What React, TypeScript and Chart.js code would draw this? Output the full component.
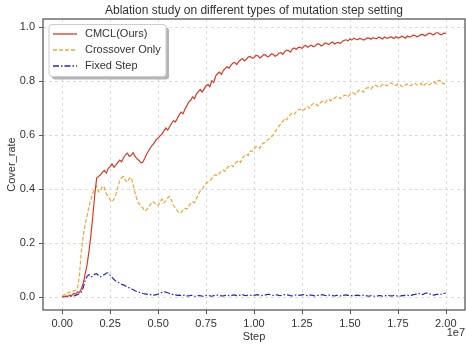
import React, { useEffect, useRef } from "react";
import { Chart, registerables } from "chart.js";
Chart.register(...registerables);

const TITLE = "Ablation study on different types of mutation step setting";
const X_LABEL = "Step";
const Y_LABEL = "Cover_rate";
const X_OFFSET_TEXT = "1e7";
const SERIES_LABELS = ["CMCL(Ours)", "Crossover Only", "Fixed Step"];

// steps in millions
const STEPS_M = [
  0.0, 0.1, 0.2, 0.3, 0.4, 0.5, 0.6, 0.7, 0.8, 0.9,
  1.0, 1.1, 1.2, 1.3, 1.4, 1.5, 1.6, 1.7, 1.8, 1.9,
  2.0, 2.1, 2.2, 2.3, 2.4, 2.5, 2.6, 2.7, 2.8, 2.9,
  3.0, 3.1, 3.2, 3.3, 3.4, 3.5, 3.6, 3.7, 3.8, 3.9,
  4.0, 4.1, 4.2, 4.3, 4.4, 4.5, 4.6, 4.7, 4.8, 4.9,
  5.0, 5.1, 5.2, 5.3, 5.4, 5.5, 5.6, 5.7, 5.8, 5.9,
  6.0, 6.1, 6.2, 6.3, 6.4, 6.5, 6.6, 6.7, 6.8, 6.9,
  7.0, 7.1, 7.2, 7.3, 7.4, 7.5, 7.6, 7.7, 7.8, 7.9,
  8.0, 8.1, 8.2, 8.3, 8.4, 8.5, 8.6, 8.7, 8.8, 8.9,
  9.0, 9.1, 9.2, 9.3, 9.4, 9.5, 9.6, 9.7, 9.8, 9.9,
  10.0, 10.1, 10.2, 10.3, 10.4, 10.5, 10.6, 10.7, 10.8, 10.9,
  11.0, 11.1, 11.2, 11.3, 11.4, 11.5, 11.6, 11.7, 11.8, 11.9,
  12.0, 12.1, 12.2, 12.3, 12.4, 12.5, 12.6, 12.7, 12.8, 12.9,
  13.0, 13.1, 13.2, 13.3, 13.4, 13.5, 13.6, 13.7, 13.8, 13.9,
  14.0, 14.1, 14.2, 14.3, 14.4, 14.5, 14.6, 14.7, 14.8, 14.9,
  15.0, 15.1, 15.2, 15.3, 15.4, 15.5, 15.6, 15.7, 15.8, 15.9,
  16.0, 16.1, 16.2, 16.3, 16.4, 16.5, 16.6, 16.7, 16.8, 16.9,
  17.0, 17.1, 17.2, 17.3, 17.4, 17.5, 17.6, 17.7, 17.8, 17.9,
  18.0, 18.1, 18.2, 18.3, 18.4, 18.5, 18.6, 18.7, 18.8, 18.9,
  19.0, 19.1, 19.2, 19.3, 19.4, 19.5, 19.6, 19.7, 19.8, 19.9,
  20.0,
];

const CMCL = [
  0.000, 0.001, 0.003, 0.002, 0.006, 0.005, 0.012, 0.010, 0.018, 0.016,
  0.030, 0.050, 0.085, 0.120, 0.170, 0.230, 0.300, 0.380, 0.440, 0.446,
  0.452, 0.462, 0.468, 0.458, 0.475, 0.482, 0.492, 0.480, 0.488, 0.498,
  0.506, 0.500, 0.515, 0.526, 0.532, 0.520, 0.524, 0.534, 0.520, 0.512,
  0.505, 0.496, 0.498, 0.512, 0.528, 0.540, 0.552, 0.562, 0.570, 0.582,
  0.588, 0.596, 0.602, 0.614, 0.625, 0.618, 0.630, 0.642, 0.652, 0.648,
  0.660, 0.674, 0.684, 0.678, 0.695, 0.708, 0.722, 0.728, 0.740, 0.734,
  0.752, 0.760, 0.768, 0.758, 0.770, 0.782, 0.786, 0.778, 0.800, 0.794,
  0.818, 0.826, 0.832, 0.824, 0.838, 0.846, 0.852, 0.846, 0.858, 0.866,
  0.868, 0.860, 0.870, 0.878, 0.882, 0.874, 0.880, 0.888, 0.890, 0.884,
  0.886, 0.894, 0.893, 0.885, 0.889, 0.897, 0.896, 0.889, 0.892, 0.900,
  0.898, 0.891, 0.895, 0.902, 0.904, 0.898, 0.908, 0.914, 0.912, 0.906,
  0.918, 0.922, 0.916, 0.923, 0.925, 0.920, 0.928, 0.931, 0.924, 0.929,
  0.932, 0.926, 0.930, 0.937, 0.936, 0.929, 0.933, 0.940, 0.938, 0.934,
  0.940, 0.944, 0.936, 0.941, 0.942, 0.938, 0.946, 0.950, 0.952, 0.948,
  0.955, 0.951, 0.958, 0.954, 0.953, 0.957, 0.956, 0.951, 0.954, 0.959,
  0.958, 0.954, 0.960, 0.957, 0.956, 0.962, 0.959, 0.955, 0.962, 0.958,
  0.958, 0.963, 0.961, 0.957, 0.963, 0.959, 0.960, 0.965, 0.962, 0.958,
  0.966, 0.962, 0.964, 0.969, 0.968, 0.963, 0.966, 0.971, 0.972, 0.967,
  0.970, 0.976, 0.976, 0.970, 0.972, 0.978, 0.978, 0.972, 0.971, 0.977,
  0.976,
];

const CROSSOVER = [
  0.000, 0.008, 0.012, 0.015, 0.018, 0.020, 0.022, 0.024, 0.030, 0.080,
  0.170, 0.225, 0.270, 0.300, 0.335, 0.362, 0.385, 0.398, 0.410, 0.388,
  0.392, 0.410, 0.405, 0.382, 0.372, 0.360, 0.352, 0.362, 0.378, 0.405,
  0.430, 0.442, 0.445, 0.430, 0.425, 0.438, 0.442, 0.415, 0.385, 0.360,
  0.345, 0.336, 0.330, 0.318, 0.322, 0.334, 0.342, 0.352, 0.350, 0.340,
  0.338, 0.350, 0.362, 0.348, 0.355, 0.366, 0.372, 0.358, 0.340, 0.330,
  0.318, 0.310, 0.312, 0.322, 0.328, 0.325, 0.335, 0.346, 0.352, 0.348,
  0.365, 0.380, 0.392, 0.398, 0.410, 0.420, 0.425, 0.430, 0.438, 0.448,
  0.452, 0.448, 0.458, 0.466, 0.470, 0.465, 0.478, 0.484, 0.488, 0.482,
  0.492, 0.500, 0.505, 0.498, 0.515, 0.522, 0.528, 0.524, 0.540, 0.538,
  0.548, 0.556, 0.556, 0.550, 0.565, 0.570, 0.572, 0.580, 0.586, 0.592,
  0.600, 0.612, 0.622, 0.632, 0.640, 0.650, 0.660, 0.655, 0.668, 0.675,
  0.680, 0.676, 0.686, 0.692, 0.695, 0.688, 0.692, 0.700, 0.705, 0.698,
  0.710, 0.716, 0.716, 0.708, 0.712, 0.722, 0.724, 0.718, 0.728, 0.732,
  0.726, 0.734, 0.735, 0.742, 0.740, 0.734, 0.738, 0.746, 0.746, 0.740,
  0.750, 0.756, 0.755, 0.750, 0.760, 0.766, 0.764, 0.758, 0.770, 0.774,
  0.775, 0.770, 0.778, 0.784, 0.782, 0.776, 0.780, 0.786, 0.788, 0.781,
  0.786, 0.792, 0.790, 0.784, 0.782, 0.789, 0.786, 0.780, 0.778, 0.786,
  0.788, 0.782, 0.782, 0.790, 0.790, 0.784, 0.785, 0.791, 0.780, 0.786,
  0.790, 0.784, 0.788, 0.795, 0.795, 0.789, 0.800, 0.802, 0.792, 0.788,
  0.796,
];

const FIXED = [
  0.000, 0.000, 0.000, 0.001, 0.001, 0.002, 0.003, 0.005, 0.008, 0.012,
  0.018, 0.035, 0.062, 0.076, 0.082, 0.074, 0.076, 0.084, 0.086, 0.078,
  0.074, 0.080, 0.082, 0.088, 0.088, 0.080, 0.072, 0.064, 0.058, 0.054,
  0.050, 0.046, 0.044, 0.040, 0.036, 0.033, 0.030, 0.026, 0.022, 0.019,
  0.017, 0.014, 0.012, 0.011, 0.010, 0.008, 0.008, 0.006, 0.006, 0.008,
  0.010, 0.013, 0.016, 0.018, 0.017, 0.015, 0.012, 0.010, 0.008, 0.007,
  0.005, 0.006, 0.004, 0.005, 0.006, 0.003, 0.003, 0.005, 0.005, 0.002,
  0.002, 0.004, 0.004, 0.002, 0.003, 0.005, 0.006, 0.003, 0.002, 0.004,
  0.004, 0.006, 0.005, 0.003, 0.003, 0.005, 0.006, 0.004, 0.004, 0.006,
  0.007, 0.004, 0.005, 0.007, 0.008, 0.005, 0.004, 0.007, 0.006, 0.004,
  0.005, 0.007, 0.008, 0.005, 0.004, 0.006, 0.007, 0.009, 0.009, 0.006,
  0.005, 0.007, 0.007, 0.005, 0.004, 0.006, 0.008, 0.007, 0.006, 0.004,
  0.003, 0.005, 0.007, 0.006, 0.005, 0.007, 0.008, 0.005, 0.004, 0.006,
  0.006, 0.004, 0.003, 0.005, 0.005, 0.007, 0.007, 0.005, 0.004, 0.006,
  0.006, 0.004, 0.003, 0.005, 0.005, 0.003, 0.004, 0.006, 0.007, 0.005,
  0.005, 0.004, 0.003, 0.005, 0.006, 0.004, 0.004, 0.006, 0.005, 0.003,
  0.002, 0.004, 0.003, 0.002, 0.002, 0.004, 0.004, 0.002, 0.003, 0.005,
  0.005, 0.003, 0.003, 0.005, 0.004, 0.002, 0.002, 0.004, 0.004, 0.006,
  0.006, 0.004, 0.005, 0.008, 0.009, 0.011, 0.012, 0.009, 0.008, 0.012,
  0.014, 0.011, 0.010, 0.007, 0.006, 0.009, 0.009, 0.011, 0.008, 0.012,
  0.014,
];

const X_TICKS = [0, 2.5e6, 5e6, 7.5e6, 10e6, 12.5e6, 15e6, 17.5e6, 20e6];
const Y_TICKS = [0, 0.2, 0.4, 0.6, 0.8, 1.0];

const COLORS = ["#d63c25", "#eaa73a", "#2626cc"];
const DASHES: number[][] = [[], [4, 2], [6, 2, 1.5, 2]];
const FONT = "'Liberation Sans', Arial, sans-serif";
const TEXT = "#333333";

export default function App() {
  const ref = useRef<HTMLCanvasElement | null>(null);

  useEffect(() => {
    document.body.style.margin = "0";
    const canvas = ref.current;
    if (!canvas) return;

    const series = [CMCL, CROSSOVER, FIXED];

    const decor = {
      id: "decor",
      beforeDraw(chart: any) {
        const ctx = chart.ctx;
        ctx.save();
        ctx.fillStyle = "#ffffff";
        ctx.fillRect(0, 0, chart.width, chart.height);
        ctx.restore();
      },
      beforeDatasetsDraw(chart: any) {
        const ctx = chart.ctx;
        const { left, right, top, bottom } = chart.chartArea;
        const xs = chart.scales.x;
        const ys = chart.scales.y;
        ctx.save();
        ctx.strokeStyle = "#d4d4d4";
        ctx.lineWidth = 0.8;
        ctx.setLineDash([3, 3]);
        X_TICKS.forEach((v) => {
          const px = Math.round(xs.getPixelForValue(v)) + 0.5;
          ctx.beginPath();
          ctx.moveTo(px, top);
          ctx.lineTo(px, bottom);
          ctx.stroke();
        });
        Y_TICKS.forEach((v) => {
          const py = Math.round(ys.getPixelForValue(v)) + 0.5;
          ctx.beginPath();
          ctx.moveTo(left, py);
          ctx.lineTo(right, py);
          ctx.stroke();
        });
        ctx.restore();
      },
      afterDraw(chart: any) {
        const ctx = chart.ctx;
        const { left, right, top, bottom } = chart.chartArea;
        const xs = chart.scales.x;
        const ys = chart.scales.y;
        ctx.save();
        ctx.strokeStyle = "#5a5a5a";
        ctx.lineWidth = 1.3;
        ctx.strokeRect(left, top, right - left, bottom - top);
        ctx.lineWidth = 1;
        X_TICKS.forEach((v) => {
          const px = Math.round(xs.getPixelForValue(v)) + 0.5;
          ctx.beginPath();
          ctx.moveTo(px, bottom);
          ctx.lineTo(px, bottom + 4);
          ctx.stroke();
        });
        Y_TICKS.forEach((v) => {
          const py = Math.round(ys.getPixelForValue(v)) + 0.5;
          ctx.beginPath();
          ctx.moveTo(left - 4, py);
          ctx.lineTo(left, py);
          ctx.stroke();
        });
        const cx = (left + right) / 2;
        ctx.fillStyle = TEXT;
        ctx.textAlign = "center";
        ctx.textBaseline = "middle";
        ctx.font = `12px ${FONT}`;
        ctx.fillText(TITLE, cx, 11);
        ctx.font = `11px ${FONT}`;
        ctx.fillText(X_LABEL, cx, 337);
        ctx.textAlign = "right";
        ctx.fillText(X_OFFSET_TEXT, right, 333);
        ctx.save();
        ctx.translate(12, (top + bottom) / 2);
        ctx.rotate(-Math.PI / 2);
        ctx.textAlign = "center";
        ctx.fillText(Y_LABEL, 0, 0);
        ctx.restore();
        const lx = 49, ly = 24.5, lw = 117, lh = 52;
        const rr = (x: number, y: number, w: number, h: number, r: number) => {
          ctx.beginPath();
          ctx.moveTo(x + r, y);
          ctx.lineTo(x + w - r, y);
          ctx.arcTo(x + w, y, x + w, y + r, r);
          ctx.lineTo(x + w, y + h - r);
          ctx.arcTo(x + w, y + h, x + w - r, y + h, r);
          ctx.lineTo(x + r, y + h);
          ctx.arcTo(x, y + h, x, y + h - r, r);
          ctx.lineTo(x, y + r);
          ctx.arcTo(x, y, x + r, y, r);
          ctx.closePath();
        };
        rr(lx + 3, ly + 3, lw, lh, 3);
        ctx.fillStyle = "rgba(120,120,120,0.55)";
        ctx.fill();
        rr(lx, ly, lw, lh, 3);
        ctx.fillStyle = "#ffffff";
        ctx.fill();
        ctx.strokeStyle = "#cccccc";
        ctx.lineWidth = 1;
        ctx.stroke();
        ctx.font = `11px ${FONT}`;
        ctx.textAlign = "left";
        ctx.textBaseline = "middle";
        SERIES_LABELS.forEach((lab, i) => {
          const yy = 34 + i * 16;
          ctx.strokeStyle = COLORS[i];
          ctx.lineWidth = 1.3;
          ctx.setLineDash(DASHES[i]);
          ctx.beginPath();
          ctx.moveTo(53, yy);
          ctx.lineTo(77, yy);
          ctx.stroke();
          ctx.setLineDash([]);
          ctx.fillStyle = TEXT;
          ctx.fillText(lab, 85, yy);
        });
        ctx.restore();
      },
    };

    const chart = new Chart(canvas, {
      type: "line",
      data: {
        datasets: series.map((vals, i) => ({
          label: SERIES_LABELS[i],
          data: vals.map((v, j) => ({ x: STEPS_M[j] * 1e6, y: v })),
          borderColor: COLORS[i],
          borderWidth: 1.2,
          borderDash: DASHES[i],
          pointRadius: 0,
          tension: 0,
          fill: false,
        })),
      },
      options: {
        responsive: false,
        animation: false,
        layout: { padding: { top: 19, right: 1, left: 0, bottom: 0 } },
        plugins: {
          legend: { display: false },
          title: { display: false },
          tooltip: { enabled: false },
        },
        scales: {
          x: {
            type: "linear",
            min: -1e6,
            max: 21e6,
            grid: { display: false, drawTicks: false },
            border: { display: false },
            afterBuildTicks: (s: any) => {
              s.ticks = X_TICKS.map((v) => ({ value: v }));
            },
            afterFit: (s: any) => {
              s.height = 36;
            },
            ticks: {
              autoSkip: false,
              maxRotation: 0,
              padding: 7,
              color: TEXT,
              font: { family: FONT, size: 11 },
              callback: (v: any) => (Number(v) / 1e7).toFixed(2),
            },
          },
          y: {
            min: -0.049,
            max: 1.029,
            grid: { display: false, drawTicks: false },
            border: { display: false },
            afterBuildTicks: (s: any) => {
              s.ticks = Y_TICKS.map((v) => ({ value: v }));
            },
            afterFit: (s: any) => {
              s.width = 43;
            },
            ticks: {
              padding: 8,
              color: TEXT,
              font: { family: FONT, size: 11 },
              callback: (v: any) => Number(v).toFixed(1),
            },
          },
        },
      },
      plugins: [decor],
    });

    return () => chart.destroy();
  }, []);

  return <canvas ref={ref} width={466} height={346} style={{ display: "block" }} />;
}
